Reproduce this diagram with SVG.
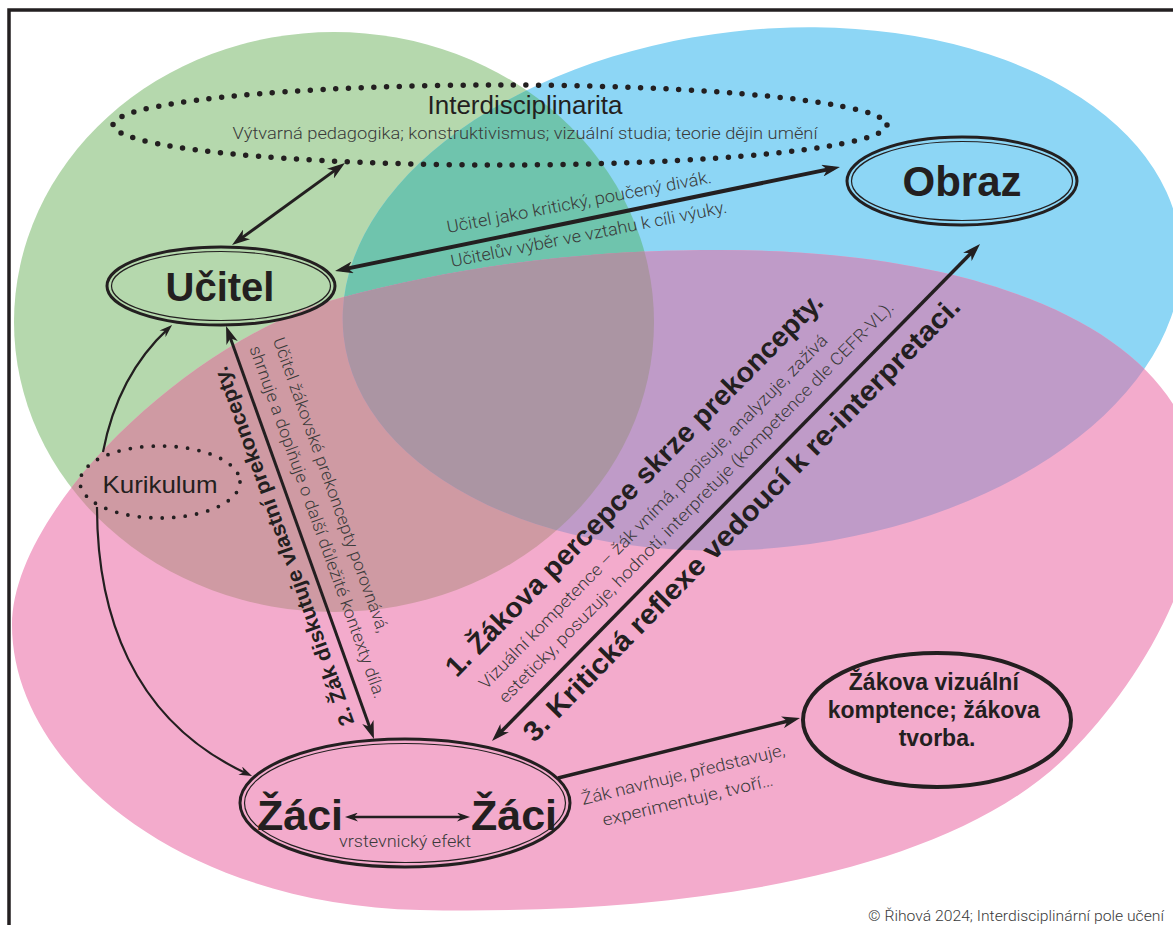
<svg xmlns="http://www.w3.org/2000/svg" width="1173" height="925" viewBox="0 0 1173 925">
  <defs>
    <style>
      .b{font-family:"Liberation Sans",Arial,Helvetica,sans-serif;font-weight:700;fill:#231f20}
      .r{font-family:"Liberation Sans",Arial,Helvetica,sans-serif;fill:#231f20}
      .l{font-family:Roboto,"Liberation Sans",Arial,sans-serif;font-weight:300;fill:#3a3a3a}
      .ln{fill:none;stroke:#231f20}
      .dots{fill:none;stroke:#231f20;stroke-linecap:round}
    </style>
    <marker id="ah" markerUnits="userSpaceOnUse" markerWidth="18" markerHeight="12" refX="11" refY="6" viewBox="0 0 18 12" orient="auto-start-reverse">
      <path d="M0,0 L18,6 L0,12 L5,6 z" fill="#231f20"/>
    </marker>
    <marker id="ahs" markerUnits="userSpaceOnUse" markerWidth="13" markerHeight="9" refX="8" refY="4.5" viewBox="0 0 13 9" orient="auto-start-reverse">
      <path d="M0,0 L13,4.5 L0,9 L4,4.5 z" fill="#231f20"/>
    </marker>
    <ellipse id="eG" cx="334" cy="322" rx="320" ry="290"/>
    <ellipse id="eB" cx="762" cy="289" rx="421" ry="259" transform="rotate(-6.5 762 289)"/>
    <path id="eP" d="M12,625 C12,765 180,905 420,910 C650,915 940,885 1070,753 C1130,693 1198,590 1198,490 C1198,340 1000,250 720,250 C570,250 450,269 340,298 C190,338 12,510 12,625 Z"/>
    <clipPath id="cG"><use href="#eG"/></clipPath>
    <clipPath id="cB"><use href="#eB"/></clipPath>
  </defs>

  <rect width="1173" height="925" fill="#fff"/>

  <!-- three overlapping fields -->
  <g id="fields">
    <use href="#eG" fill="#b5d8ad"/>
    <use href="#eB" fill="#8dd6f5"/>
    <use href="#eP" fill="#f3abcc"/>
    <g clip-path="url(#cG)">
      <use href="#eB" fill="#6fc4ad"/>
      <use href="#eP" fill="#cf9aa3"/>
    </g>
    <g clip-path="url(#cB)">
      <use href="#eP" fill="#bf9bc8"/>
      <g clip-path="url(#cG)">
        <use href="#eP" fill="#ab95a3"/>
      </g>
    </g>
  </g>

  <!-- frame -->
  <path d="M9,925 V10 H1173" fill="none" stroke="#231f20" stroke-width="3.5"/>

  <!-- nodes -->
  <g id="interdisciplinarita">
    <ellipse class="dots" cx="500" cy="125" rx="387" ry="40" stroke-width="5.5" stroke-dasharray="0 12.7"/>
    <text class="r" x="525" y="114" font-size="25" text-anchor="middle" textLength="195" lengthAdjust="spacingAndGlyphs">Interdisciplinarita</text>
    <text class="l" x="525" y="139" font-size="17" text-anchor="middle" textLength="585" lengthAdjust="spacingAndGlyphs">Výtvarná pedagogika; konstruktivismus; vizuální studia; teorie dějin umění</text>
  </g>

  <g id="obraz">
    <ellipse class="ln" cx="962" cy="181" rx="115" ry="44" stroke-width="3"/>
    <ellipse class="ln" cx="962" cy="181" rx="110.5" ry="39.5" stroke-width="1.2"/>
    <text class="b" x="962" y="196" font-size="42" text-anchor="middle">Obraz</text>
  </g>

  <g id="ucitel">
    <ellipse class="ln" cx="221" cy="286" rx="114" ry="39" stroke-width="3"/>
    <ellipse class="ln" cx="221" cy="286" rx="109.5" ry="34.5" stroke-width="1.2"/>
    <text class="b" x="220" y="301" font-size="40" text-anchor="middle">Učitel</text>
  </g>

  <g id="kurikulum">
    <ellipse class="dots" cx="160" cy="482" rx="80" ry="36" stroke-width="3.8" stroke-dasharray="0 11.5"/>
    <text class="r" x="160" y="493" font-size="24" text-anchor="middle" textLength="115" lengthAdjust="spacingAndGlyphs">Kurikulum</text>
  </g>

  <g id="zaci">
    <ellipse class="ln" cx="405" cy="803" rx="165" ry="64" stroke-width="3"/>
    <ellipse class="ln" cx="405" cy="803" rx="160.5" ry="59.5" stroke-width="1.2"/>
    <text class="b" x="257" y="830" font-size="43">Žáci</text>
    <text class="b" x="471" y="830" font-size="43">Žáci</text>
    <line class="ln" x1="350" y1="817" x2="465" y2="817" stroke-width="2.5" marker-start="url(#ahs)" marker-end="url(#ahs)"/>
    <text class="l" x="339" y="847" font-size="16" textLength="132" lengthAdjust="spacingAndGlyphs">vrstevnický efekt</text>
  </g>

  <g id="tvorba">
    <ellipse class="ln" cx="937" cy="720" rx="134" ry="67" stroke-width="4"/>
    <text class="b" font-size="23" text-anchor="middle">
      <tspan x="937" y="690">Žákova vizuální</tspan>
      <tspan x="937" y="718">komptence; žákova</tspan>
      <tspan x="937" y="746">tvorba.</tspan>
    </text>
  </g>

  <!-- connectors -->
  <g id="connectors">
    <line class="ln" x1="237.7" y1="240.9" x2="339.3" y2="167.1" stroke-width="3" marker-start="url(#ah)" marker-end="url(#ah)"/>
    <line class="ln" x1="341.9" y1="269.6" x2="833.1" y2="168.4" stroke-width="4" marker-start="url(#ah)" marker-end="url(#ah)"/>
    <line class="ln" x1="228.4" y1="332.6" x2="371.6" y2="732.4" stroke-width="3" marker-start="url(#ah)" marker-end="url(#ah)"/>
    <line class="ln" x1="496.9" y1="736" x2="975.1" y2="249" stroke-width="3.5" marker-start="url(#ah)" marker-end="url(#ah)"/>
    <line class="ln" x1="558" y1="778" x2="793.2" y2="719.7" stroke-width="3.5" marker-end="url(#ah)"/>
    <path class="ln" d="M103,452 C112,405 132,362 168.4,328.4" stroke-width="2.2" marker-end="url(#ahs)"/>
    <path class="ln" d="M97,507 C97,610 130,720 247.5,773.9" stroke-width="2.2" marker-end="url(#ahs)"/>
  </g>

  <!-- connector labels -->
  <g id="labels">
    <text class="l" transform="translate(448,233) rotate(-10.8)" font-size="17" textLength="269" lengthAdjust="spacingAndGlyphs">Učitel jako kritický, poučený divák.</text>
    <text class="l" transform="translate(452,267) rotate(-11.2)" font-size="17" textLength="281" lengthAdjust="spacingAndGlyphs">Učitelův výběr ve vztahu k cíli výuky.</text>

    <g transform="translate(226,328) rotate(70.3)">
      <text class="l" x="27" y="-40" font-size="17" textLength="312" lengthAdjust="spacingAndGlyphs">Učitel žákovské prekoncepty porovnává,</text>
      <text class="l" x="27" y="-15" font-size="17" textLength="373" lengthAdjust="spacingAndGlyphs">shrnuje a doplňuje o další důležité kontexty díla.</text>
      <text class="b" transform="translate(415,12) rotate(180)" font-size="21" textLength="380" lengthAdjust="spacingAndGlyphs">2. Žák diskutuje vlastní prekoncepty.</text>
    </g>

    <g transform="translate(492,741) rotate(-45.5)">
      <text class="b" x="20" y="-69" font-size="28" textLength="525" lengthAdjust="spacingAndGlyphs">1. Žákova percepce skrze prekoncepty.</text>
      <text class="l" x="32" y="-40" font-size="17" textLength="489" lengthAdjust="spacingAndGlyphs">Vizuální kompetence – žák vnímá, popisuje, analyzuje, zažívá</text>
      <text class="l" x="36" y="-16" font-size="17" textLength="555" lengthAdjust="spacingAndGlyphs">esteticky, posuzuje, hodnotí, interpretuje (kompetence dle CEFR-VL).</text>
      <text class="b" x="28" y="32" font-size="28" textLength="610" lengthAdjust="spacingAndGlyphs">3. Kritická reflexe vedoucí k re-interpretaci.</text>
    </g>

    <text class="l" transform="translate(583,805) rotate(-13.8)" font-size="17" textLength="209" lengthAdjust="spacingAndGlyphs">Žák navrhuje, představuje,</text>
    <text class="l" transform="translate(604,826) rotate(-13.5)" font-size="17" textLength="175" lengthAdjust="spacingAndGlyphs">experimentuje, tvoří…</text>
  </g>

  <text class="l" x="1164" y="921" font-size="15" text-anchor="end" textLength="296" lengthAdjust="spacingAndGlyphs">© Řihová 2024; Interdisciplinární pole učení</text>
</svg>
